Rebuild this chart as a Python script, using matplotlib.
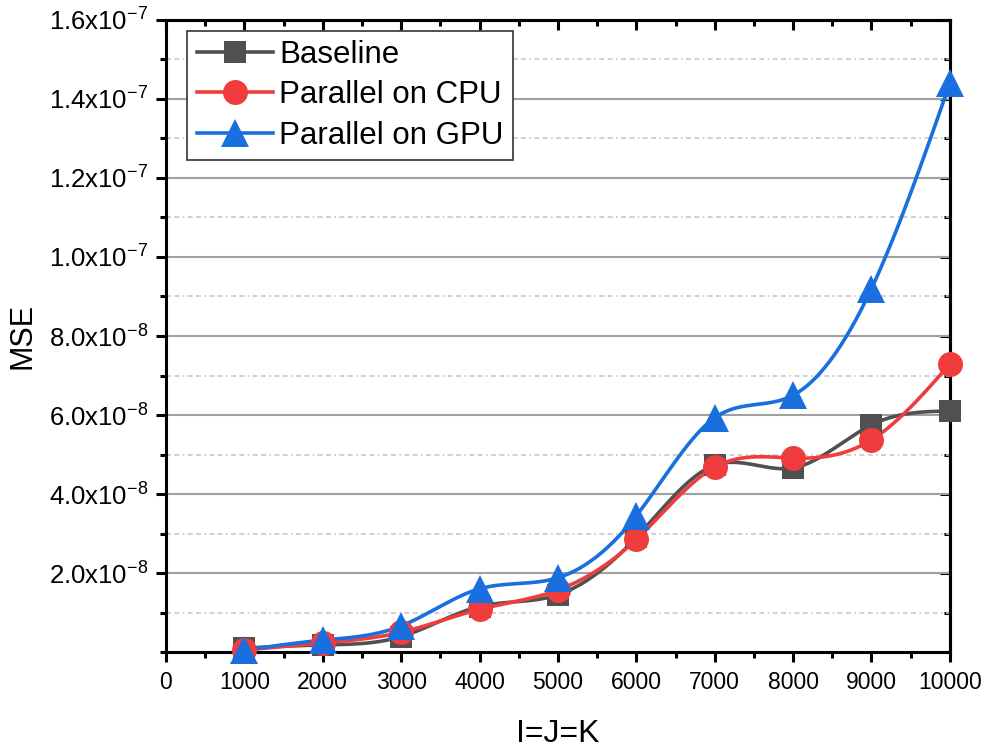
import numpy as np
import matplotlib
matplotlib.use("Agg")
import matplotlib.pyplot as plt
from matplotlib.ticker import FixedLocator, FuncFormatter, MultipleLocator

plt.rcParams['font.family'] = ['Liberation Sans', 'DejaVu Sans']
plt.rcParams['mathtext.fontset'] = 'custom'
plt.rcParams['mathtext.rm'] = 'Liberation Sans'

# ---- data ----
sizes = [1000, 2000, 3000, 4000, 5000, 6000, 7000, 8000, 9000, 10000]
baseline = [1.0e-9, 1.8e-9, 3.9e-9, 1.15e-8, 1.45e-8, 2.9e-8, 4.73e-8, 4.66e-8, 5.75e-8, 6.1e-8]
cpu = [0.5e-9, 2.3e-9, 5.0e-9, 1.08e-8, 1.57e-8, 2.85e-8, 4.68e-8, 4.91e-8, 5.37e-8, 7.29e-8]
gpu = [0.5e-9, 3.0e-9, 6.6e-9, 1.6e-8, 1.88e-8, 3.45e-8, 5.93e-8, 6.5e-8, 9.2e-8, 1.44e-7]
series_names = ["Baseline", "Parallel on CPU", "Parallel on GPU"]
yticks_major = [2e-8, 4e-8, 6e-8, 8e-8, 1e-7, 1.2e-7, 1.4e-7, 1.6e-7]
xticks_major = [0, 1000, 2000, 3000, 4000, 5000, 6000, 7000, 8000, 9000, 10000]


def natural_spline(x, y, n=400):
    x = np.asarray(x, float)
    y = np.asarray(y, float)
    k = len(x)
    h = np.diff(x)
    A = np.zeros((k, k))
    b = np.zeros(k)
    A[0, 0] = 1
    A[-1, -1] = 1
    for i in range(1, k - 1):
        A[i, i - 1] = h[i - 1]
        A[i, i] = 2 * (h[i - 1] + h[i])
        A[i, i + 1] = h[i]
        b[i] = 3 * ((y[i + 1] - y[i]) / h[i] - (y[i] - y[i - 1]) / h[i - 1])
    c = np.linalg.solve(A, b)
    xs = np.linspace(x[0], x[-1], n)
    idx = np.clip(np.searchsorted(x, xs) - 1, 0, k - 2)
    dx = xs - x[idx]
    bb = (y[idx + 1] - y[idx]) / h[idx] - h[idx] * (2 * c[idx] + c[idx + 1]) / 3
    d = (c[idx + 1] - c[idx]) / (3 * h[idx])
    ys = y[idx] + bb * dx + c[idx] * dx ** 2 + d * dx ** 3
    return xs, ys


fig = plt.figure(figsize=(9.91, 7.48), dpi=100)
ax = fig.add_axes([0.1675, 0.1283, 0.791, 0.845])

colors = ["#505050", "#F03C3C", "#1A6FDF"]
markers = ["s", "o", "^"]
msizes = [16, 18, 20]
for vals, col, mk, ms, name in zip([baseline, cpu, gpu], colors, markers, msizes, series_names):
    xs, ys = natural_spline(sizes, vals)
    ax.plot(xs, ys, color=col, lw=2.6, zorder=3, solid_capstyle='round')
    ax.plot(sizes, vals, linestyle='none', marker=mk, ms=ms, color=col,
            markeredgewidth=0, zorder=4, clip_on=False)
    ax.plot([], [], color=col, lw=2.6, marker=mk, ms=ms, markeredgewidth=0, label=name)

ax.set_xlim(0, 10000)
ax.set_ylim(0, 1.6e-7)

ax.xaxis.set_major_locator(FixedLocator(xticks_major))
ax.xaxis.set_minor_locator(MultipleLocator(500))
ax.yaxis.set_major_locator(FixedLocator(yticks_major))
ax.yaxis.set_minor_locator(MultipleLocator(1e-8))


def yfmt(v, pos):
    e = int(np.floor(np.log10(v)))
    m = v / 10 ** e
    return r"$\mathregular{%.1fx10^{%d}}$" % (m, e)


ax.yaxis.set_major_formatter(FuncFormatter(yfmt))
ax.xaxis.set_major_formatter(FuncFormatter(lambda v, p: "%d" % v))

ax.grid(axis='y', which='major', color='#A0A0A0', lw=1.5, ls='-', zorder=1)
ax.grid(axis='y', which='minor', color='#C8C8C8', lw=1.2, ls=(0, (3, 2, 3, 2, 1, 2)), zorder=1)

for s in ax.spines.values():
    s.set_linewidth(2.2)

ax.tick_params(axis='both', which='major', direction='out', length=7, width=2.2, pad=7)
ax.tick_params(axis='x', which='major', labelsize=16.5)
ax.tick_params(axis='y', which='major', labelsize=18.5, pad=6)
ax.tick_params(axis='both', which='minor', direction='out', length=4, width=2.2)

top = ax.secondary_xaxis('top')
top.xaxis.set_major_locator(FixedLocator(xticks_major))
top.xaxis.set_minor_locator(MultipleLocator(500))
top.tick_params(which='major', direction='in', length=7, width=2.2, labeltop=False)
top.tick_params(which='minor', direction='in', length=4, width=2.2)
top.spines['top'].set_linewidth(2.2)

right = ax.secondary_yaxis('right')
right.yaxis.set_major_locator(FixedLocator(yticks_major))
right.yaxis.set_minor_locator(MultipleLocator(1e-8))
right.tick_params(which='major', direction='in', length=7, width=2.2, labelright=False)
right.tick_params(which='minor', direction='in', length=4, width=2.2)
right.spines['right'].set_linewidth(2.2)

ax.set_xlabel("I=J=K", fontsize=23, labelpad=18)
ax.set_ylabel("MSE", fontsize=22, labelpad=8)

leg = ax.legend(loc='upper left', bbox_to_anchor=(0.027, 0.983), fontsize=22.5,
                frameon=True, fancybox=False, edgecolor='#333333', framealpha=1,
                handlelength=2.45, handletextpad=0.2, labelspacing=0.33,
                borderpad=0.3, borderaxespad=0)
leg.get_frame().set_linewidth(1.2)
leg.set_zorder(5)

fig.savefig("out.png", dpi=100)
